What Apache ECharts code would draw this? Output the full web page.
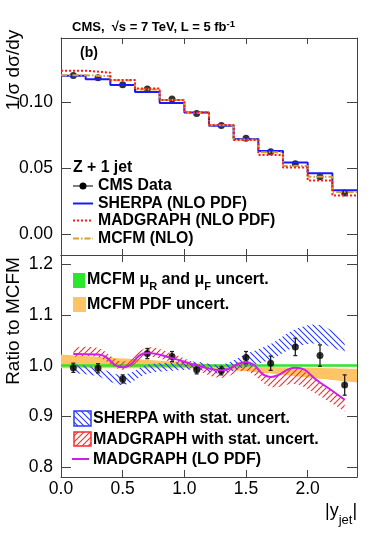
<!DOCTYPE html>
<html>
<head>
<meta charset="utf-8">
<script src="https://cdn.jsdelivr.net/npm/echarts@6/dist/echarts.min.js"></script>
<style>
html, body { margin: 0; padding: 0; background: #fff; }
#chart { width: 382px; height: 533px; }
</style>
</head>
<body>
<div id="chart"></div>
<script>
// 12 bins of |y_jet|, width 0.2
var binCenters = [0.1, 0.3, 0.5, 0.7, 0.9, 1.1, 1.3, 1.5, 1.7, 1.9, 2.1, 2.3];
var binEdges = [0, 0.2, 0.4, 0.6, 0.8, 1.0, 1.2, 1.4, 1.6, 1.8, 2.0, 2.2, 2.4];

// upper panel: 1/sigma dsigma/dy
var cmsData = [0.1204, 0.1186, 0.1134, 0.1101, 0.1025, 0.0915, 0.0824, 0.0727, 0.0625, 0.0534, 0.0435, 0.0311];
var sherpaNlo = [0.1202, 0.1175, 0.1131, 0.1078, 0.0995, 0.0923, 0.0822, 0.0721, 0.0630, 0.0543, 0.0461, 0.0332];
var madgraphNlo = [0.1240, 0.1225, 0.1169, 0.1105, 0.1017, 0.0923, 0.0828, 0.0714, 0.0600, 0.0505, 0.0406, 0.0292];
var mcfmNlo = [0.1205, 0.1198, 0.1167, 0.1097, 0.1017, 0.0919, 0.0825, 0.0718, 0.0620, 0.0516, 0.0435, 0.0319];

// lower panel: ratio to MCFM
var ratioData = [0.996, 0.995, 0.974, 1.024, 1.018, 0.992, 0.990, 1.016, 1.005, 1.037, 1.020, 0.962];
var ratioErr = [0.009, 0.009, 0.008, 0.010, 0.010, 0.008, 0.008, 0.012, 0.014, 0.017, 0.021, 0.020];
var sherpaLo = [0.986, 0.979, 0.962, 0.984, 0.990, 0.992, 0.985, 0.998, 1.012, 1.037, 1.043, 1.026];
var sherpaHi = [1.003, 0.996, 0.982, 1.002, 1.006, 1.008, 1.002, 1.023, 1.043, 1.072, 1.080, 1.052];
var madgraphLo = [1.018, 1.017, 0.992, 1.017, 1.007, 0.990, 0.976, 0.990, 0.958, 0.964, 0.940, 0.910];
var madgraphHi = [1.036, 1.035, 1.008, 1.036, 1.024, 1.005, 0.993, 1.010, 0.980, 0.995, 0.968, 0.935];
var madgraphLoPdf = [1.023, 1.022, 0.997, 1.025, 1.015, 1.001, 0.991, 1.007, 0.978, 0.996, 0.967, 0.933];
var pdfLo = [0.995, 0.995, 0.995, 0.995, 0.995, 0.995, 0.994, 0.991, 0.987, 0.982, 0.977, 0.972, 0.967];
var pdfHi = [1.022, 1.019, 1.016, 1.013, 1.010, 1.007, 1.003, 1.000, 0.998, 0.997, 0.996, 0.995, 0.994];
var scaleX = [0, 2.4];
var scaleLo = [0.998, 0.998];
var scaleHi = [1.003, 1.003];

var xTicks = [0, 0.5, 1.0, 1.5, 2.0];
var upperTicks = [0, 0.05, 0.10];
var ratioTicks = [0.8, 0.9, 1.0, 1.1, 1.2];

var FONT = "'Liberation Sans', Arial, sans-serif";
var frameColor = '#444';

function hatch(color, dir) {
    var s = 6, c = document.createElement('canvas');
    c.width = s; c.height = s;
    var g = c.getContext('2d');
    g.strokeStyle = color;
    g.lineWidth = 1.1;
    g.beginPath();
    if (dir > 0) {
        g.moveTo(-1, s + 1); g.lineTo(s + 1, -1);
        g.moveTo(-1, 1); g.lineTo(1, -1);
        g.moveTo(s - 1, s + 1); g.lineTo(s + 1, s - 1);
    } else {
        g.moveTo(-1, -1); g.lineTo(s + 1, s + 1);
        g.moveTo(-1, s - 1); g.lineTo(1, s + 1);
        g.moveTo(s - 1, -1); g.lineTo(s + 1, 1);
    }
    g.stroke();
    return { image: c, repeat: 'repeat' };
}

var blueHatch = hatch('#2a3cf0', -1);
var redHatch = hatch('#ff2a2a', 1);

function stepData(vals) {
    return binEdges.map(function (x, i) { return [x, vals[Math.min(i, vals.length - 1)]]; });
}

// catmull-rom through pixel points
function spline(pts) {
    if (pts.length < 3) return pts.slice();
    var out = [], steps = 8;
    for (var i = 0; i < pts.length - 1; i++) {
        var p0 = pts[Math.max(i - 1, 0)], p1 = pts[i], p2 = pts[i + 1], p3 = pts[Math.min(i + 2, pts.length - 1)];
        for (var k = 0; k < steps; k++) {
            var t = k / steps, t2 = t * t, t3 = t2 * t;
            out.push([0, 1].map(function (d) {
                return 0.5 * (2 * p1[d] + (-p0[d] + p2[d]) * t + (2 * p0[d] - 5 * p1[d] + 4 * p2[d] - p3[d]) * t2 + (-p0[d] + 3 * p1[d] - 3 * p2[d] + p3[d]) * t3);
            }));
        }
    }
    out.push(pts[pts.length - 1]);
    return out;
}

function band(xs, lo, hi, fill, smooth) {
    return {
        type: 'custom', xAxisIndex: 2, yAxisIndex: 2, silent: true,
        data: xs.map(function (x, i) { return [x, lo[i], hi[i]]; }),
        renderItem: function (params, api) {
            if (params.dataIndexInside !== 0) return null;
            var n = params.dataInsideLength, up = [], dn = [];
            for (var i = 0; i < n; i++) {
                var x = api.value(0, i);
                up.push(api.coord([x, api.value(2, i)]));
                dn.push(api.coord([x, api.value(1, i)]));
            }
            if (smooth) { up = spline(up); dn = spline(dn); }
            var cs = params.coordSys;
            return {
                type: 'polygon', shape: { points: up.concat(dn.reverse()) },
                style: { fill: fill },
                clipPath: { type: 'rect', shape: { x: cs.x, y: cs.y, width: cs.width, height: cs.height } }
            };
        }
    };
}

function xAxis(grid, pos, labels, tickLen) {
    return {
        type: 'value', gridIndex: grid, position: pos, min: 0, max: 2.4,
        splitLine: { show: false },
        axisLine: { show: true, onZero: false, lineStyle: { color: frameColor, width: 1 } },
        axisTick: { show: true, inside: true, length: tickLen, customValues: xTicks, lineStyle: { color: frameColor } },
        axisLabel: {
            show: labels, customValues: xTicks, margin: 3, color: '#000',
            fontFamily: FONT, fontSize: 17.5,
            formatter: function (v) { return v.toFixed(1); }
        }
    };
}

function yAxis(grid, pos, min, max, ticks, digits, labels) {
    return {
        type: 'value', gridIndex: grid, position: pos, min: min, max: max,
        splitLine: { show: false },
        axisLine: { show: true, onZero: false, lineStyle: { color: frameColor, width: 1 } },
        axisTick: { show: true, inside: true, length: 10, customValues: ticks, lineStyle: { color: frameColor } },
        axisLabel: {
            show: labels, customValues: ticks, margin: 8, color: '#000',
            fontFamily: FONT, fontSize: 17.5,
            formatter: function (v) { return v.toFixed(digits); }
        }
    };
}

function txt(x, y, text, size, extra) {
    var st = { text: text, fill: '#000', font: 'bold ' + size + 'px ' + FONT, align: 'left', verticalAlign: 'middle' };
    if (extra) for (var k in extra) st[k] = extra[k];
    return { type: 'text', x: x, y: y, style: st };
}

var series = [
    // upper panel
    { type: 'line', xAxisIndex: 0, yAxisIndex: 0, step: 'end', symbol: 'none', data: stepData(sherpaNlo),
      lineStyle: { color: '#1a1aff', width: 2 } },
    { type: 'line', xAxisIndex: 0, yAxisIndex: 0, step: 'end', symbol: 'none', data: stepData(mcfmNlo),
      lineStyle: { color: '#d4a030', width: 2, type: [6, 2, 1.5, 2] } },
    { type: 'line', xAxisIndex: 0, yAxisIndex: 0, step: 'end', symbol: 'none', data: stepData(madgraphNlo),
      lineStyle: { color: '#ff1a1a', width: 2, type: [2, 2] } },
    { type: 'scatter', xAxisIndex: 0, yAxisIndex: 0, symbol: 'circle', symbolSize: 7,
      itemStyle: { color: '#000' },
      data: binCenters.map(function (x, i) { return [x, cmsData[i]]; }) },
    // lower panel
    band(binEdges, pdfLo, pdfHi, '#ffc466', true),
    band(scaleX, scaleLo, scaleHi, '#2ee52e', false),
    band(binCenters, sherpaLo, sherpaHi, blueHatch, true),
    band(binCenters, madgraphLo, madgraphHi, redHatch, true),
    { type: 'line', xAxisIndex: 2, yAxisIndex: 2, smooth: true, symbol: 'none',
      lineStyle: { color: '#cc1fe8', width: 2 },
      data: binCenters.map(function (x, i) { return [x, madgraphLoPdf[i]]; }) },
    { type: 'custom', xAxisIndex: 2, yAxisIndex: 2,
      data: binCenters.map(function (x, i) { return [x, ratioData[i] - ratioErr[i], ratioData[i] + ratioErr[i]]; }),
      renderItem: function (params, api) {
          var lo = api.coord([api.value(0), api.value(1)]);
          var hi = api.coord([api.value(0), api.value(2)]);
          var st = { stroke: '#222', lineWidth: 1.3 };
          return { type: 'group', children: [
              { type: 'line', shape: { x1: lo[0], y1: lo[1], x2: hi[0], y2: hi[1] }, style: st },
              { type: 'line', shape: { x1: lo[0] - 2, y1: lo[1], x2: lo[0] + 2, y2: lo[1] }, style: st },
              { type: 'line', shape: { x1: hi[0] - 2, y1: hi[1], x2: hi[0] + 2, y2: hi[1] }, style: st }
          ] };
      } },
    { type: 'scatter', xAxisIndex: 2, yAxisIndex: 2, symbol: 'circle', symbolSize: 7,
      itemStyle: { color: '#000' },
      data: binCenters.map(function (x, i) { return [x, ratioData[i]]; }) }
];

var graphics = [
    txt(72, 27.5, '{b|CMS,  √s = 7 TeV, L = 5 fb}{p|-1}', 13, {
        rich: {
            b: { fontSize: 13, fontWeight: 'bold', fontFamily: FONT, lineHeight: 17 },
            p: { fontSize: 9.5, fontWeight: 'bold', fontFamily: FONT, lineHeight: 10, verticalAlign: 'top' }
        }
    }),
    txt(80, 53.5, '(b)', 14),
    { type: 'text', x: 14, y: 70, rotation: Math.PI / 2,
      style: { text: '1/σ dσ/dy', fill: '#000', font: '19px ' + FONT, align: 'center', verticalAlign: 'middle' } },
    { type: 'text', x: 14, y: 321, rotation: Math.PI / 2,
      style: { text: 'Ratio to MCFM', fill: '#000', font: '19px ' + FONT, align: 'center', verticalAlign: 'middle' } },
    txt(325, 511, '{b||y}{s|jet}{b||}', 18, {
        rich: {
            b: { fontSize: 18, fontFamily: FONT, lineHeight: 32 },
            s: { fontSize: 13, fontFamily: FONT, lineHeight: 13, verticalAlign: 'bottom' }
        }
    }),
    // upper legend
    txt(73, 168, 'Z + 1 jet', 15.8),
    { type: 'line', shape: { x1: 73, y1: 186, x2: 93, y2: 186 }, style: { stroke: '#555', lineWidth: 1.5 } },
    { type: 'circle', shape: { cx: 83, cy: 186, r: 3.5 }, style: { fill: '#000' } },
    txt(98, 186, 'CMS Data', 15.8),
    { type: 'line', shape: { x1: 73, y1: 203.5, x2: 93, y2: 203.5 }, style: { stroke: '#1a1aff', lineWidth: 2 } },
    txt(98, 203.5, 'SHERPA (NLO PDF)', 15.8),
    { type: 'line', shape: { x1: 73, y1: 220.5, x2: 93, y2: 220.5 }, style: { stroke: '#ff1a1a', lineWidth: 2, lineDash: [2, 2] } },
    txt(98, 220.5, 'MADGRAPH (NLO PDF)', 15.8),
    { type: 'line', shape: { x1: 73, y1: 238.5, x2: 93, y2: 238.5 }, style: { stroke: '#d4a030', lineWidth: 2, lineDash: [6, 2, 1.5, 2] } },
    txt(98, 238.5, 'MCFM (NLO)', 15.8),
    // lower legend
    { type: 'rect', shape: { x: 73, y: 273, width: 12, height: 15 }, style: { fill: '#2ee52e' } },
    txt(87, 280, '{b|MCFM μ}{s|R}{b| and μ}{s|F}{b| uncert.}', 16, {
        rich: {
            b: { fontSize: 16, fontWeight: 'bold', fontFamily: FONT, lineHeight: 24 },
            s: { fontSize: 11, fontWeight: 'bold', fontFamily: FONT, lineHeight: 11, verticalAlign: 'bottom' }
        }
    }),
    { type: 'rect', shape: { x: 73, y: 297, width: 13, height: 15 }, style: { fill: '#ffc466' } },
    txt(87, 305, 'MCFM PDF uncert.', 16),
    { type: 'rect', shape: { x: 74, y: 411, width: 17, height: 15 }, style: { fill: blueHatch, stroke: '#2a3cf0', lineWidth: 1.5 } },
    txt(93, 418.5, 'SHERPA with stat. uncert.', 16),
    { type: 'rect', shape: { x: 74, y: 432, width: 17, height: 14 }, style: { fill: redHatch, stroke: '#ff2a2a', lineWidth: 1.5 } },
    txt(93, 439.5, 'MADGRAPH with stat. uncert.', 16),
    { type: 'line', shape: { x1: 72, y1: 459, x2: 89, y2: 459 }, style: { stroke: '#cc1fe8', lineWidth: 2 } },
    txt(93, 459.5, 'MADGRAPH (LO PDF)', 16)
];

var chart = echarts.init(document.getElementById('chart'), null, { renderer: 'canvas' });
chart.setOption({
    animation: false,
    backgroundColor: '#fff',
    grid: [
        { left: 61, right: 25, top: 38, height: 217 },
        { left: 61, right: 25, top: 255, height: 222 }
    ],
    xAxis: [
        xAxis(0, 'bottom', false, 6),
        xAxis(0, 'top', false, 6),
        xAxis(1, 'bottom', true, 7),
        xAxis(1, 'top', false, 7)
    ],
    yAxis: [
        yAxis(0, 'left', -0.0159, 0.1488, upperTicks, 2, true),
        yAxis(0, 'right', -0.0159, 0.1488, upperTicks, 2, false),
        yAxis(1, 'left', 0.781, 1.218, ratioTicks, 1, true),
        yAxis(1, 'right', 0.781, 1.218, ratioTicks, 1, false)
    ],
    series: series,
    graphic: graphics
});
</script>
</body>
</html>
